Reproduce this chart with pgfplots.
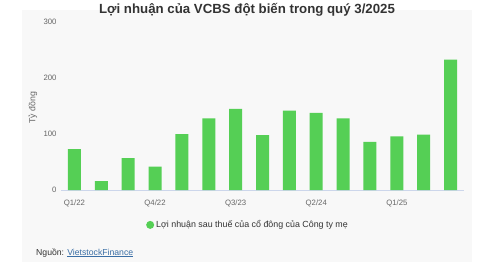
\documentclass[border=0pt]{standalone}
\usepackage{pgfplots}
\pgfplotsset{compat=1.18}
\usepackage{fontspec}
\setmainfont{Liberation Sans}
\definecolor{bargreen}{HTML}{55CF55}
\definecolor{panel}{HTML}{F8F8F8}
\definecolor{titlec}{HTML}{333333}
\definecolor{tickc}{HTML}{666666}
\definecolor{axisc}{HTML}{CCD6EB}
\definecolor{linkc}{HTML}{3A6EA5}
\begin{document}
\begin{tikzpicture}[x=1bp,y=1bp]
\path (0,0) rectangle (497,261);
\fill[panel] (22,0) rectangle (472,252);
\node[font=\fontsize{13.3}{15}\selectfont\bfseries, text=titlec] at (247,252) {Lợi nhuận của VCBS đột biến trong quý 3/2025};
\begin{axis}[
  at={(61bp,71.7bp)}, anchor=south west,
  scale only axis, width=403bp, height=168bp,
  xmin=-0.5, xmax=14.5, ymin=0, ymax=300,
  axis lines*=left, axis line style={-},
  y axis line style={draw=none},
  x axis line style={draw=axisc, line width=0.8pt},
  major tick length=0pt,
  xtick={0,3,6,9,12},
  xticklabels={Q1/22,Q4/22,Q3/23,Q2/24,Q1/25},
  ytick={0,100,200,300},
  /pgf/number format/assume math mode=true,
  tick label style={font=\fontsize{7.8}{9}\selectfont, text=tickc},
  xticklabel style={yshift=-6bp},
  yticklabel style={xshift=-1bp},
  ybar, bar width=13bp,
  legend style={at={(0.464,-0.207)}, anchor=center, draw=none, fill=none,
     font=\fontsize{8.9}{10}\selectfont, text=titlec},
  legend image code/.code={\fill[bargreen] (0bp,0bp) circle (4bp);},
]
\addplot[fill=bargreen, draw=none] coordinates {
(0,73) (1,16) (2,57) (3,42) (4,100) (5,128) (6,145) (7,98) (8,142) (9,138) (10,128) (11,86) (12,96) (13,99) (14,233)};
\addlegendentry{Lợi nhuận sau thuế của cổ đông của Công ty mẹ}
\end{axis}
\node[rotate=90, font=\fontsize{8.8}{10}\selectfont, text=tickc] at (33,154) {Tỷ đồng};
\node[anchor=west, font=\fontsize{8.7}{10}\selectfont, text=titlec, inner sep=0pt] at (36,9) {Nguồn: \textcolor{linkc}{\underline{VietstockFinance}}};
\end{tikzpicture}
\end{document}
